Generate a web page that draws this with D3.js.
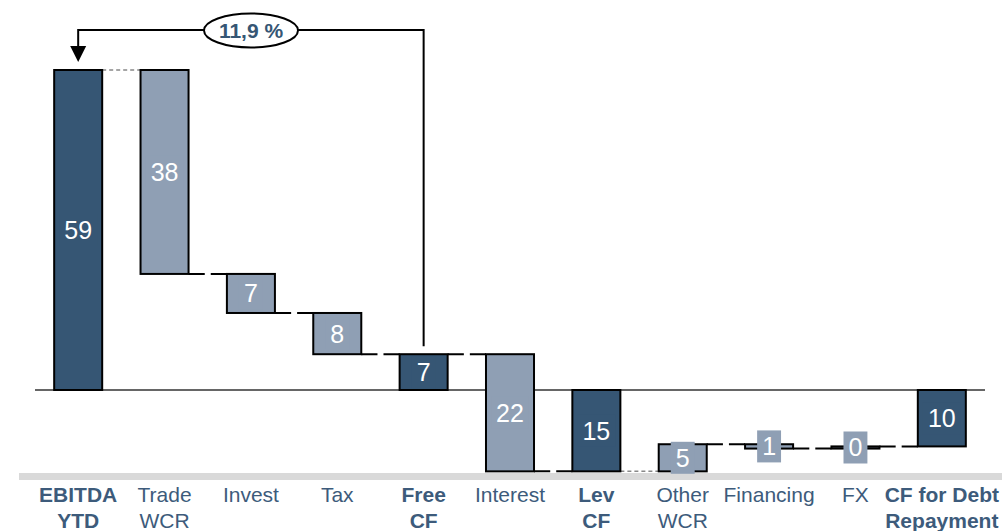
<!DOCTYPE html>
<meta charset="utf-8">
<style>
body { margin: 0; background: #fff; }
text { font-family: "Liberation Sans", Arial, sans-serif; }
.cat { fill: #3d5b7b; font-size: 21px; }
.val { fill: #fff; font-size: 25px; }
</style>
<body></body>
<script src="https://d3js.org/d3.v7.min.js"></script>
<script>

var categories = ["EBITDA YTD", "Trade WCR", "Invest", "Tax", "Free CF", "Interest",
                  "Lev CF", "Other WCR", "Financing", "FX", "CF for Debt Repayment"];
var catLines = [["EBITDA", "YTD"], ["Trade", "WCR"], ["Invest"], ["Tax"], ["Free", "CF"],
                ["Interest"], ["Lev", "CF"], ["Other", "WCR"], ["Financing"], ["FX"],
                ["CF for Debt", "Repayment"]];
// deltas, totals are null and get the running sum
var deltas = [59, -37.6, -7.2, -7.6, null, -21.6, null, 5.0, -0.8, 0.4, null];
var isTotal = [true, false, false, false, true, false, true, false, false, false, true];
var ratioLabel = "11,9 %";

var width = 1002, height = 531;
var dark = "#365674", light = "#8f9fb4";

var svg = d3.select("body").append("svg")
    .attr("width", width)
    .attr("height", height);

// build bars
var bars = [], run = 0;
categories.forEach(function(c, i) {
  var d = {name: c, i: i, total: isTotal[i]};
  if (i === 0) { d.y0 = 0; d.y1 = deltas[0]; run = deltas[0]; }
  else if (isTotal[i]) { d.y0 = 0; d.y1 = run; }
  else { d.y0 = run; d.y1 = run + deltas[i]; run = d.y1; }
  d.value = d.y1 - d.y0;
  d.end = run;
  bars.push(d);
});

var x = d3.scaleBand()
    .domain(categories)
    .range([35, 985])
    .paddingInner(0.444)
    .paddingOuter(0.222);

var y = d3.scaleLinear()
    .domain([0, 59])
    .range([390, 70]);

// grey band at bottom
svg.append("rect")
    .attr("x", 19).attr("y", 473)
    .attr("width", width - 19).attr("height", 7)
    .attr("fill", "#d9d9d9");

// zero line
svg.append("line")
    .attr("x1", x.range()[0]).attr("x2", x.range()[1])
    .attr("y1", y(0)).attr("y2", y(0))
    .attr("stroke", "#333").attr("stroke-width", 1.3);

// connectors
var conn = svg.append("g");
bars.slice(0, -1).forEach(function(d, i) {
  var level = d.total ? d.y1 : d.end;
  var grey = (i === 0 || i === 6);
  conn.append("line")
      .attr("x1", x(d.name) + x.bandwidth())
      .attr("x2", x(categories[i + 1]))
      .attr("y1", y(level)).attr("y2", y(level))
      .attr("stroke", grey ? "#888" : "#000")
      .attr("stroke-width", grey ? 1.5 : 2)
      .attr("stroke-dasharray", grey ? "4,3" : "16.2,6");
});

// bars
svg.append("g")
  .selectAll("rect")
  .data(bars)
  .enter().append("rect")
    .attr("x", function(d) { return x(d.name); })
    .attr("width", x.bandwidth())
    .attr("y", function(d) { return y(Math.max(d.y0, d.y1)); })
    .attr("height", function(d) { return Math.abs(y(d.y0) - y(d.y1)); })
    .attr("fill", function(d) { return d.total ? dark : light; })
    .attr("stroke", "#000")
    .attr("stroke-width", 2);

// value labels with background box
var vl = svg.append("g").selectAll("g")
  .data(bars)
  .enter().append("g")
    .attr("transform", function(d) {
      return "translate(" + (x(d.name) + x.bandwidth() / 2) + "," + ((y(d.y0) + y(d.y1)) / 2) + ")";
    });

vl.append("text")
    .attr("class", "val")
    .attr("text-anchor", "middle")
    .attr("dy", "0.36em")
    .text(function(d) { return Math.round(Math.abs(d.value)); })
    .each(function(d) {
      var bb = this.getBBox();
      d3.select(this.parentNode).insert("rect", "text")
          .attr("x", bb.x - 5).attr("y", -16)
          .attr("width", bb.width + 10).attr("height", 32)
          .attr("fill", d.total ? dark : light);
    });

// category labels
var cl = svg.append("g").selectAll("text")
  .data(bars)
  .enter().append("text")
    .attr("class", "cat")
    .attr("text-anchor", "middle")
    .attr("font-weight", function(d) { return d.total ? "bold" : "normal"; })
    .attr("x", function(d) { return x(d.name) + x.bandwidth() / 2; })
    .attr("y", 502);

cl.selectAll("tspan")
  .data(function(d) { return catLines[d.i].map(function(t) { return {t: t, x: x(d.name) + x.bandwidth() / 2}; }); })
  .enter().append("tspan")
    .attr("x", function(d) { return d.x; })
    .attr("dy", function(d, j) { return j ? 25.5 : 0; })
    .text(function(d) { return d.t; });

// ratio arrow from Free CF to EBITDA
var xs = x(categories[4]) + x.bandwidth() / 2,
    xe = x(categories[0]) + x.bandwidth() / 2,
    arrowY = 30;
svg.append("path")
    .attr("d", "M" + xs + "," + (y(bars[4].y1) - 8) + "V" + arrowY + "H" + xe + "V" + 47)
    .attr("fill", "none")
    .attr("stroke", "#000")
    .attr("stroke-width", 2);
svg.append("path")
    .attr("d", "M" + (xe - 8) + ",46L" + (xe + 8) + ",46L" + xe + "," + (y(59) - 8) + "Z")
    .attr("fill", "#000");

var ex = 251;
svg.append("ellipse")
    .attr("cx", ex).attr("cy", arrowY + 0.5)
    .attr("rx", 47).attr("ry", 17)
    .attr("fill", "#fff")
    .attr("stroke", "#000")
    .attr("stroke-width", 2);
svg.append("text")
    .attr("x", ex).attr("y", arrowY + 0.5)
    .attr("dy", "0.36em")
    .attr("text-anchor", "middle")
    .attr("font-weight", "bold")
    .attr("font-size", 21)
    .attr("fill", dark)
    .text(ratioLabel);

</script>
